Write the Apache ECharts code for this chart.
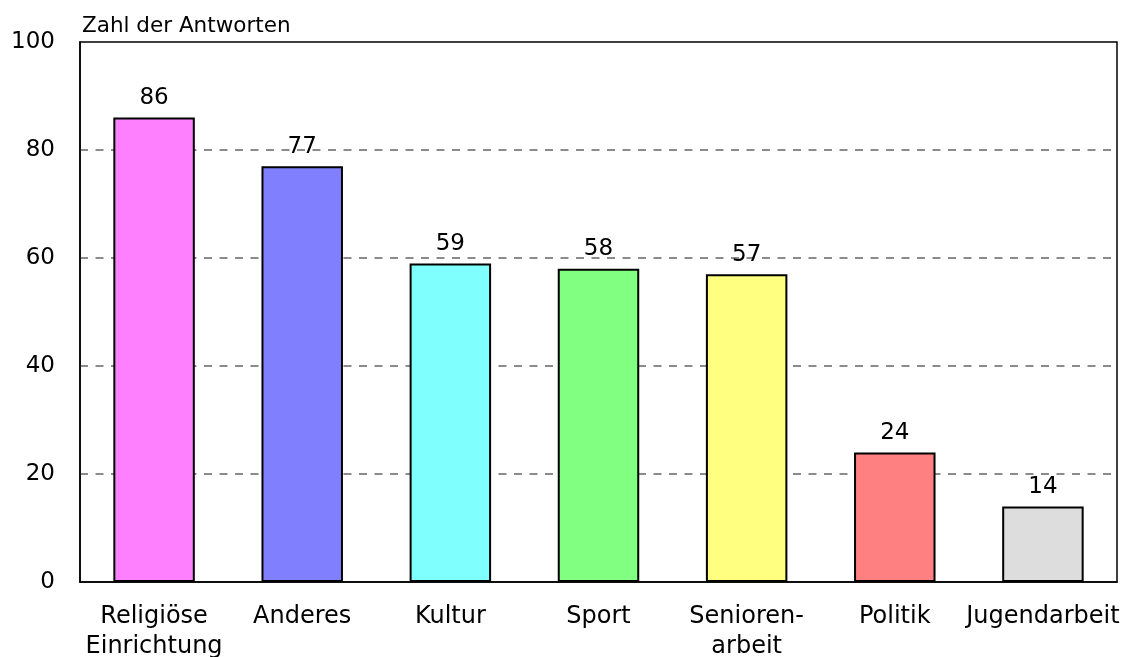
<!DOCTYPE html>
<html>
<head>
<meta charset="utf-8">
<script src="https://cdn.jsdelivr.net/npm/echarts@6/dist/echarts.min.js"></script>
<style>
html,body{margin:0;padding:0;background:#fff;}
#chart{width:1130px;height:657px;}
</style>
</head>
<body>
<div id="chart"></div>
<script>
const categories = ["Religiöse\nEinrichtung", "Anderes", "Kultur", "Sport", "Senioren-\narbeit", "Politik", "Jugendarbeit"];
const values = [86, 77, 59, 58, 57, 24, 14];
const barColors = ["#FF80FF", "#8080FF", "#80FFFF", "#80FF80", "#FFFF80", "#FF8080", "#DDDDDD"];
const yTicks = [0, 20, 40, 60, 80, 100];
const yTitle = "Zahl der Antworten";

const FONT = "DejaVu Sans";
const chart = echarts.init(document.getElementById('chart'), null, {renderer: 'canvas'});
chart.setOption({
  animation: false,
  backgroundColor: '#fff',
  grid: {left: 80, right: 13, top: 42, bottom: 75, show: true, borderColor: '#000', borderWidth: 1.5, outerBoundsMode: 'none', containLabel: false},
  title: {text: yTitle, left: 77, top: 10, textStyle: {fontFamily: FONT, fontSize: 21.5, fontWeight: 'normal', color: '#000'}},
  xAxis: {
    type: 'category',
    data: categories,
    axisLine: {show: true, lineStyle: {color: '#000', width: 1.5}},
    axisTick: {show: false},
    axisLabel: {fontFamily: FONT, fontSize: 24, color: '#000', margin: 20, lineHeight: 30, interval: 0}
  },
  yAxis: {
    type: 'value',
    min: yTicks[0], max: yTicks[yTicks.length - 1], interval: 20,
    axisLine: {show: true, lineStyle: {color: '#000', width: 1.5}},
    axisTick: {show: false},
    axisLabel: {fontFamily: FONT, fontSize: 23, color: '#000', margin: 25},
    splitLine: {show: true, showMinLine: false, showMaxLine: false, lineStyle: {color: '#666', type: [8, 7.5], width: 1.5}}
  },
  series: [{
    type: 'bar',
    data: values.map((v, i) => ({value: v, itemStyle: {color: barColors[i]}})),
    barWidth: '55%',
    itemStyle: {borderColor: '#000', borderWidth: 2},
    label: {show: true, position: 'top', distance: 8, fontFamily: FONT, fontSize: 23, color: '#000'}
  }]
});
</script>
</body>
</html>
